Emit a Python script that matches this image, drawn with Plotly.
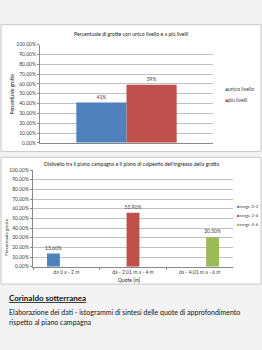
import plotly.graph_objects as go

W, H = 262, 350

# ---- data ----
c1_categories = [""]
c1_series = ["unico livello", "più livelli"]
c1_values = [0.41, 0.59]
c1_colors = ["#4F81BD", "#C0504D"]

c2_categories = ["da 0 a - 2 m", "da - 2.01 m a - 4 m", "da - 4.01 m a - 6 m"]
c2_series = ["range 0-2", "range 2-4", "range 4-6"]
c2_values = [0.136, 0.559, 0.305]
c2_colors = ["#4F81BD", "#C0504D", "#9BBB59"]

y_ticks = [i / 10 for i in range(11)]

FONT = "Lato, Open Sans, sans-serif"
TXT = "#404040"


def px(x):
    return x / W


def py(y):
    return 1 - y / H


fig = go.Figure()

# chart 1 bars
for i, (name, v, col) in enumerate(zip(c1_series, c1_values, c1_colors)):
    fig.add_trace(go.Bar(
        x=c1_categories, y=[v], name=name, marker_color=col,
        marker_line_width=0, xaxis="x", yaxis="y",
        texttemplate="%{y:.0%}", textposition="outside", constraintext="none",
        textfont=dict(size=5, color=TXT, family=FONT), cliponaxis=False,
        showlegend=False, offsetgroup=str(i)))

# chart 2 bars
for i, (name, col) in enumerate(zip(c2_series, c2_colors)):
    yv = [c2_values[j] if j == i else None for j in range(len(c2_categories))]
    fig.add_trace(go.Bar(
        x=c2_categories, y=yv, name=name, marker_color=col,
        marker_line_width=0, xaxis="x2", yaxis="y2",
        texttemplate="%{y:.2%}", textposition="outside", constraintext="none",
        textfont=dict(size=5, color=TXT, family=FONT), cliponaxis=False,
        showlegend=False, offsetgroup=str(i)))

axis_common = dict(showline=True, linecolor="#888888", linewidth=1,
                   tickfont=dict(size=5, color=TXT, family=FONT))
yaxis_common = dict(axis_common, range=[0, 1], tickvals=y_ticks,
                    tickformat=".2%", showgrid=True, gridcolor="#C0C0C0",
                    gridwidth=1, ticks="outside", ticklen=2,
                    tickcolor="#888888", zeroline=False, fixedrange=True)

fig.update_layout(
    width=W, height=H,
    margin=dict(l=0, r=0, t=0, b=0),
    paper_bgcolor="#F3F3F3", plot_bgcolor="rgba(0,0,0,0)",
    barmode="group",
    bargap=0.42, bargroupgap=0,
    showlegend=False,
    font=dict(family=FONT, color=TXT),
    xaxis=dict(axis_common, domain=[px(40), px(213)], anchor="y",
               showticklabels=False, ticks=""),
    yaxis=dict(yaxis_common, domain=[py(142.3), py(42.3)], anchor="x"),
    xaxis2=dict(axis_common, domain=[px(33), px(233)], anchor="y2",
                ticks="outside", ticklen=2, tickcolor="#888888",
                tickson="boundaries"),
    yaxis2=dict(yaxis_common, domain=[py(268.3), py(170)], anchor="x2"),
)

# boxes
for y0, y1 in [(22, 151), (157, 286)]:
    fig.add_shape(type="rect", xref="paper", yref="paper",
                  x0=px(1), x1=px(261), y0=py(y1), y1=py(y0),
                  fillcolor="white", line=dict(color="#C8C8C8", width=1),
                  layer="below")

ann = []
# legends
for name, col, y in zip(c1_series, c1_colors, [88, 99]):
    ann.append(dict(text=f"<span style='color:{col}'>■</span>{name}",
                    x=px(222.5), y=py(y), xanchor="left",
                    font=dict(size=5, color=TXT)))
for name, col, y in zip(c2_series, c2_colors, [207, 216, 225]):
    ann.append(dict(text=f"<span style='color:{col}'>■</span>{name}",
                    x=px(234.5), y=py(y), xanchor="left",
                    font=dict(size=4.4, color=TXT)))

ann.append(dict(text="Percentuale di grotte con unico livello e a più livelli",
                x=px(130.5), y=py(32), font=dict(size=5.2, color="#222")))
ann.append(dict(text="Dislivello tra il piano campagna e il piano di calpestio dell'ingresso della grotta",
                x=px(132), y=py(164), font=dict(size=5.2, color="#222")))
ann.append(dict(text="Percentuale grotte", x=px(12), y=py(93), textangle=-90,
                font=dict(size=5, color="#222")))
ann.append(dict(text="Percentuale grotte", x=px(6), y=py(238), textangle=-90,
                font=dict(size=4.6, color="#222")))
ann.append(dict(text="Quote [m]", x=px(129), y=py(282), font=dict(size=5, color="#222")))
ann.append(dict(text="<b><u>Corinaldo sotterranea</u></b>", x=px(7), y=py(300),
                xanchor="left", font=dict(size=8, color="#111")))
ann.append(dict(text="Elaborazione dei dati - istogrammi di sintesi delle quote di approfondimento",
                x=px(7), y=py(314), xanchor="left", font=dict(size=7, color="#111")))
ann.append(dict(text="rispetto al piano campagna", x=px(7), y=py(324.5),
                xanchor="left", font=dict(size=7, color="#111")))
for a in ann:
    a.setdefault("xanchor", "center")
    fig.add_annotation(xref="paper", yref="paper", showarrow=False,
                       yanchor="middle", **a)
    fig.layout.annotations[-1].font.family = FONT

fig.write_html("out.html")
